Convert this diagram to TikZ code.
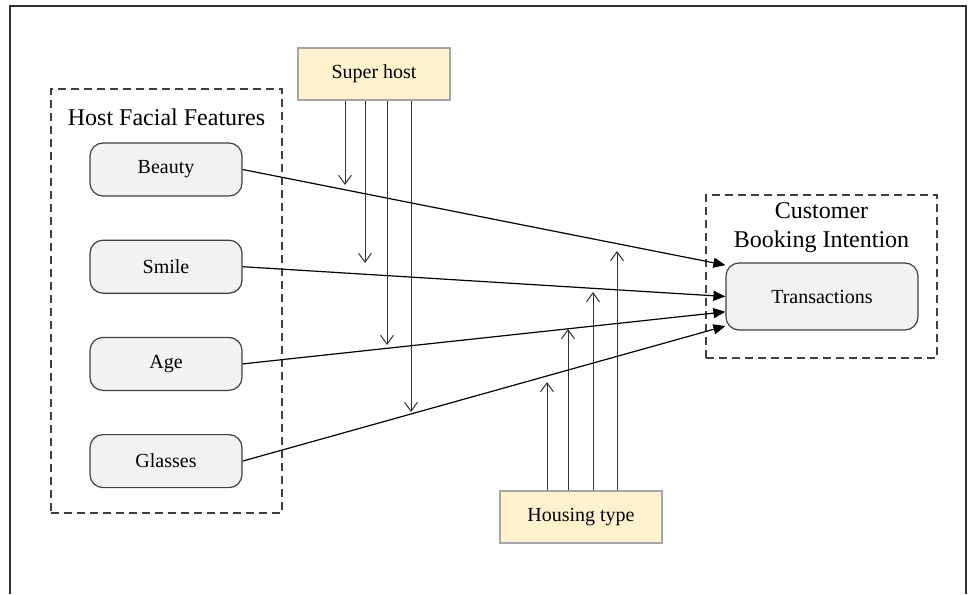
\documentclass[tikz,border=0pt]{standalone}
\usepackage{fontspec}
\setmainfont{Liberation Serif}
\usetikzlibrary{arrows.meta, positioning}

\definecolor{featfill}{HTML}{F2F2F2}
\definecolor{ctrlfill}{HTML}{FFF2CC}
\definecolor{ctrldraw}{HTML}{A6A6A6}

\begin{document}
\begin{tikzpicture}[
  x=0.5pt, y=-0.5pt,
  font=\fontsize{10}{12}\selectfont,
  feat/.style={rectangle, draw=black!75, rounded corners=6.5pt, fill=featfill, line width=0.6pt, minimum width=76pt, minimum height=26.5pt, inner sep=0pt},
  ctrl/.style={rectangle, draw=ctrldraw, fill=ctrlfill, line width=0.6pt, minimum height=26pt, inner sep=0pt},
  group/.style={rectangle, draw=black!75, dash pattern=on 4pt off 2.5pt, line width=0.6pt, inner sep=0pt},
  grouptitle/.style={font=\fontsize{12}{14.5}\selectfont, align=center},
  moder/.style={-{Straight Barb[length=4.5pt, width=6.5pt]}, line width=0.5pt, draw=black!80},
  >={Triangle[length=6pt, width=5pt]},
  node distance=21.5pt
]
  \useasboundingbox (0,0) rectangle (968,594);
  \draw[line width=1pt, black!80] (10,594) -- (10,6) -- (966,6) -- (966,594);

  % dashed groups
  \node[group, minimum width=115.5pt, minimum height=212pt] (hff) at (166.5,301) {};
  \node[grouptitle] (hfftitle) at (166.5,117) {Host Facial Features};
  \node[group, minimum width=115.5pt, minimum height=81.5pt] (cbi) at (821.5,276.5) {};
  \node[grouptitle] (cbititle) at (821.5,228) {Customer\\Booking Intention};

  % features
  \node[feat] (beauty) at (166,169.5) {Beauty};
  \node[feat, below=of beauty] (smile) {Smile};
  \node[feat, below=of smile] (age) {Age};
  \node[feat, below=of age] (glasses) {Glasses};

  \node[feat, minimum width=96pt, minimum height=33.5pt] (trans) at (822,296.5) {Transactions};

  % moderators
  \node[ctrl, minimum width=76pt] (super) at (374,74) {Super host};
  \node[ctrl, minimum width=81pt] (housing) at (581,517) {Housing type};

  \draw[->, line width=0.6pt] (beauty.east) -- (trans.162);
  \draw[->, line width=0.6pt] (smile.east) -- (trans.west);
  \draw[->, line width=0.6pt] (age.east) -- (trans.189);
  \draw[->, line width=0.6pt] (glasses.east) -- (trans.197);

  \foreach \x/\y [count=\i] in {345/185, 365/263, 387/345, 411/412} {
    \coordinate (sh\i) at (\x,\y);
    \draw[moder] (super.south -| sh\i) -- (sh\i);
  }
  \foreach \x/\y [count=\i] in {547/382, 568/329, 593/292, 617/251} {
    \coordinate (ht\i) at (\x,\y);
    \draw[moder] (housing.north -| ht\i) -- (ht\i);
  }
\end{tikzpicture}
\end{document}
